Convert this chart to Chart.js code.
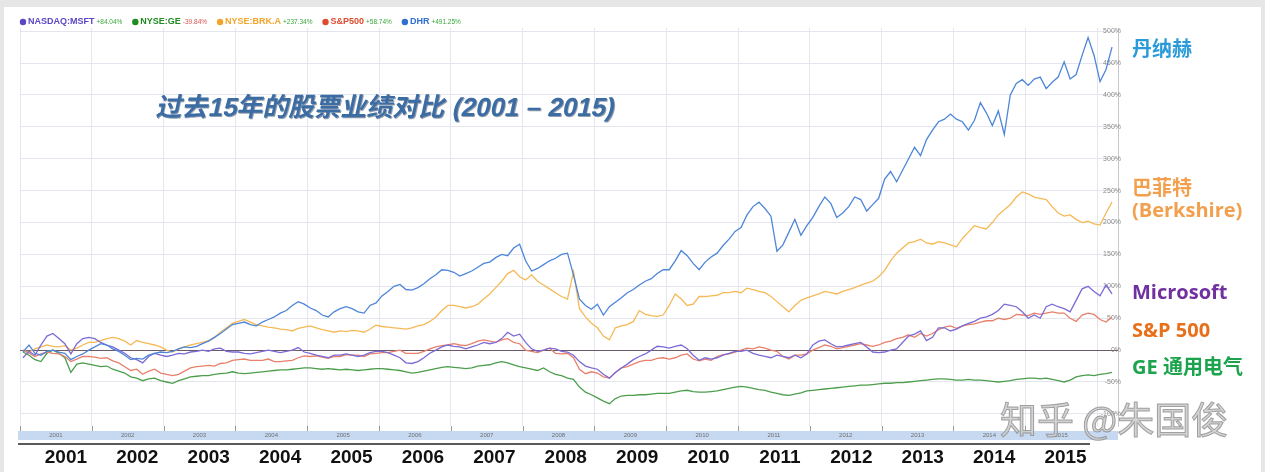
<!DOCTYPE html>
<html>
<head>
<meta charset="utf-8">
<script src="https://cdn.jsdelivr.net/npm/chart.js@4.4.1/dist/chart.umd.min.js"></script>
<style>
html, body { margin: 0; padding: 0; background: #fff; }
canvas { display: block; }
</style>
</head>
<body>
<canvas id="myChart" width="1265" height="472"></canvas>
<script>
// years shown on the time axis
var years = [2001, 2002, 2003, 2004, 2005, 2006, 2007, 2008, 2009, 2010, 2011, 2012, 2013, 2014, 2015];
// percentage grid values on the right axis
var yTicks = [-100, -50, 0, 50, 100, 150, 200, 250, 300, 350, 400, 450, 500];

// monthly % change since Jan 2001 (Jan 2001 .. Mar 2016)
var msft = [
  -12, -2, -8, 8, 22, 26, 18, 10, -6, 10, 18, 20,
  18, 12, 8, 5, 0, -5, -12, -15, -20, -10, -5, -8,
  -10, -8, -5, -6, -3, -2, 0, -2, 2, 3, -2, -3,
  -3, -5, -6, -4, -2, 0, -2, -4, -2, 0, 4, -3,
  -5, -8, -10, -12, -8, -8, -6, -8, -10, -8, -4, -2,
  -2, -4, -8, -12, -20, -21, -18, -12, -5, 0, 5, 8,
  6, 5, 2, 5, 8, 12, 10, 12, 18, 28, 22, 25,
  12, 2, -2, 0, 3, 2, -2, -3, -8, -18, -25, -28,
  -30, -38, -44, -35, -28, -22, -15, -10, -6, 0, 6, 5,
  3, 6, 8, 2, -8, -16, -12, -14, -12, -8, -5, -2,
  -2, 0, -5, -8, -10, -12, -8, -10, -12, -8, -12, -6,
  8, 14, 16, 10, 5, 6, 8, 10, 12, 5, -3, -4,
  -3, 0, 2, 12, 22, 25, 30, 15, 20, 35, 35, 30,
  33, 38, 42, 45, 50, 52, 56, 62, 72, 70, 68, 60,
  50, 55, 50, 68, 72, 68, 65, 60, 78, 96, 100, 92,
  85, 102, 88
];
var ge = [
  -3, -8, -15, -18, -5, 0, -5, -12, -35, -22, -20, -22,
  -24, -26, -25, -30, -33, -36, -42, -44, -48, -45, -44, -48,
  -50, -52, -48, -45, -42, -41, -40, -40, -38, -37, -36, -34,
  -36, -37, -36, -35, -34, -33, -32, -31, -31, -30, -29, -28,
  -28, -29, -30, -29, -30, -31, -30, -31, -32, -31, -30, -29,
  -29, -30, -31, -32, -34, -36, -35, -33, -31, -29, -27, -26,
  -27, -28, -29, -28, -25, -24, -23, -20, -18, -20, -23, -26,
  -28, -30, -32, -28, -34, -38, -40, -44, -46, -58, -66, -70,
  -75, -80, -84, -76, -72, -71, -71, -70, -70, -69, -68, -68,
  -68, -66, -64, -63, -65, -66, -66, -65, -64, -62, -60, -58,
  -57, -58, -60, -62, -63, -66, -68, -70, -71, -69, -67, -64,
  -63, -62, -61, -60, -59, -58, -57, -56, -55, -55, -54, -53,
  -52, -52, -51, -51, -50, -49, -48, -47, -46, -45, -45, -46,
  -47, -47, -46, -47, -47, -48, -49, -50, -49, -48, -46, -45,
  -44, -44, -45, -44, -46, -48, -50, -47, -42, -40, -39, -40,
  -38, -37, -35
];
var brk = [
  0, -3, 2, 5, 8, 6, 5, 7, 0, 3, 8, 12,
  12, 15, 18, 20, 18, 14, 8, 15, 12, 10, 8, 5,
  0, -3, 2, 5, 8, 10, 12, 15, 20, 28, 35, 42,
  45, 48, 44, 40, 38, 36, 35, 33, 32, 30, 34, 36,
  38, 35, 32, 30, 28, 30, 29, 31, 30, 28, 33, 39,
  37, 36, 35, 34, 33, 35, 38, 40, 45, 52, 62, 70,
  70, 68, 66, 68, 72, 80, 88, 98, 108, 120, 125, 115,
  110, 118, 108, 102, 96, 90, 84, 80, 123, 65, 52, 42,
  35, 22, 16, 35, 38, 40, 45, 62, 56, 54, 53, 55,
  70, 88, 80, 70, 72, 84, 84, 85, 86, 90, 90, 92,
  90, 97, 95, 92, 90, 84, 76, 68, 60, 70, 78, 82,
  85, 88, 92, 90, 88, 92, 95, 98, 102, 105, 108, 115,
  125, 140, 152, 160, 168, 170, 174, 168, 166, 170, 168, 165,
  162, 175, 185, 195, 192, 190, 200, 212, 220, 228, 240, 248,
  245, 240, 238, 236, 225, 215, 210, 212, 205, 200, 202, 198,
  196, 215, 232
];
var sp500 = [
  0, -5, -10, -6, -3, -5, -6, -10, -18, -14, -10, -10,
  -11, -13, -12, -17, -20, -26, -32, -30, -38, -33, -30, -36,
  -38, -40, -38, -33, -28, -26, -25, -24, -25, -21, -20, -16,
  -15, -14, -16, -16, -16, -14, -18, -18, -17, -16, -12, -9,
  -10, -9, -11, -13, -10, -10, -7, -8, -8, -10, -6, -5,
  -4, -4, -2, 0, -5, -5, -5, -2, 2, 5, 7, 8,
  10, 8, 7, 10, 14, 16, 14, 12, 16, 18, 12, 10,
  0, -2, -4, 0, 3, -5, -6, -5, -12, -30, -37, -34,
  -36, -42, -44, -35, -28, -26, -22, -18, -16, -16, -13, -12,
  -14, -12, -8, -6, -14, -17, -14, -16, -10, -7, -6, -3,
  0, 3, 2, 5, 3, 0, -2, -10, -14, -8, -8, -6,
  0, 4, 8, 6, 2, 4, 6, 8, 10, 8, 6, 8,
  12, 14, 18, 20, 24, 20, 26, 22, 26, 32, 36, 38,
  34, 38, 40, 41, 44, 46, 46, 50, 48, 50, 56, 55,
  54, 58, 56, 58, 60, 58, 58, 50, 45, 55, 58, 56,
  48, 44, 52
];
var dhr = [
  -3, 8, -5, -8, -2, 0, -3, -5, -15, -10, -6, 0,
  5, 10, 8, 2, -2, -8, -15, -13, -14, -8, -5, -3,
  -4, -2, 2, 5, 4, 6, 10, 14, 20, 26, 33, 40,
  42, 44, 40, 38, 44, 48, 52, 58, 62, 70, 76, 72,
  66, 62, 55, 52, 60, 65, 68, 65, 60, 58, 70, 74,
  85, 92, 100, 103, 95, 94, 98, 104, 112, 118, 126, 125,
  122, 116, 120, 124, 130, 136, 138, 145, 150, 148, 160, 166,
  140, 124, 128, 134, 140, 144, 150, 152, 118, 80, 70, 64,
  72, 55, 68, 75, 82, 90, 95, 102, 108, 112, 120, 126,
  126, 140, 156, 148, 136, 126, 138, 146, 152, 164, 174, 186,
  192, 212, 225, 232, 222, 210, 155, 165, 185, 205, 180, 195,
  208, 225, 240, 230, 208, 215, 225, 240, 236, 218, 228, 238,
  268, 280, 264, 282, 300, 318, 305, 330, 345, 358, 362, 370,
  362, 358, 345, 360, 388, 372, 352, 375, 338, 400, 418, 424,
  415, 425, 428, 410, 420, 428, 452, 425, 432, 462, 490, 462,
  421, 440, 475
];

// legend text at the top
var legendNames = ['NASDAQ:MSFT', 'NYSE:GE', 'NYSE:BRK.A', 'S&P500', 'DHR'];
var legendPct = ['+84.04%', '-39.84%', '+237.34%', '+58.74%', '+491.25%'];
var colors = ['#7b6bd6', '#4c9e4c', '#f6b957', '#e9806c', '#4d86d8'];
var dotColors = ['#5b46c4', '#1f8a1f', '#f2a52a', '#de4a2c', '#2f6fd0'];

function pts(arr) {
  return arr.map(function (v, i) { return { x: i + 0.5, y: v }; });
}

var overlay = {
  id: 'overlay',
  beforeDraw: function (chart) {
    var c = chart.ctx;
    c.save();
    c.fillStyle = '#e6e6e6';
    c.fillRect(0, 0, chart.width, chart.height);
    c.fillStyle = '#ffffff';
    c.fillRect(4, 7, 1257, chart.height - 7);
    c.restore();
  },
  afterDraw: function (chart) {
    var c = chart.ctx;
    var xs = chart.scales.x;
    var area = chart.chartArea;
    c.save();

    // legend row
    var lx = 20, ly = 22;
    c.textBaseline = 'middle';
    for (var i = 0; i < legendNames.length; i++) {
      c.fillStyle = dotColors[i];
      c.beginPath();
      c.arc(lx + 3, ly, 3.2, 0, Math.PI * 2);
      c.fill();
      lx += 8;
      c.font = 'bold 9px "Liberation Sans", Arial, sans-serif';
      c.fillText(legendNames[i], lx, ly);
      lx += c.measureText(legendNames[i]).width + 2;
      c.font = '6.5px "Liberation Sans", Arial, sans-serif';
      c.fillStyle = legendPct[i].charAt(0) === '-' ? '#d9534f' : '#3aa83a';
      c.fillText(legendPct[i], lx, ly + 0.5);
      lx += c.measureText(legendPct[i]).width + 10;
    }

    // title, slanted
    c.save();
    c.translate(157, 109);
    c.transform(1, 0, -0.22, 1, 0, 0);
    c.font = 'bold 26px "Liberation Sans", "Noto Sans CJK SC", sans-serif';
    c.textBaseline = 'middle';
    c.fillStyle = 'rgba(20,40,70,0.45)';
    c.fillText('过去15年的股票业绩对比 (2001 – 2015)', 1.2, 1.2);
    c.fillStyle = '#3b6ca3';
    c.fillText('过去15年的股票业绩对比 (2001 – 2015)', 0, 0);
    c.restore();

    // labels at the right side
    var side = [
      ['丹纳赫', '#2a9bd8', 50],
      ['巴菲特', '#f2a04e', 189],
      ['(Berkshire)', '#f2a04e', 211],
      ['Microsoft', '#7030a0', 293],
      ['S&P 500', '#e8701a', 331],
      ['GE 通用电气', '#1ba34d', 368]
    ];
    c.font = 'bold 20px "Open Sans", "Noto Sans CJK SC", sans-serif';
    c.textBaseline = 'middle';
    side.forEach(function (s) {
      c.fillStyle = s[1];
      c.fillText(s[0], 1132, s[2]);
    });

    // year strip under the plot
    var top = area.bottom + 5;
    c.fillStyle = '#c6d9f1';
    c.fillRect(area.left - 2, top, area.right - area.left + 2, 9);
    c.strokeStyle = '#9a9a9a';
    c.lineWidth = 1;
    c.font = '6px "Liberation Sans", Arial, sans-serif';
    c.textAlign = 'center';
    years.forEach(function (y, k) {
      var bx = Math.round(xs.getPixelForValue(k * 12)) + 0.5;
      c.beginPath();
      c.moveTo(bx, area.bottom);
      c.lineTo(bx, top);
      c.stroke();
      c.fillStyle = '#707070';
      c.fillText(String(y), xs.getPixelForValue(k * 12 + 6), top + 4.5);
    });

    // dark rule and big year labels
    c.strokeStyle = '#5a5a5a';
    c.lineWidth = 2;
    c.beginPath();
    c.moveTo(area.left - 2, top + 13);
    c.lineTo(1090, top + 13);
    c.stroke();
    c.fillStyle = '#111';
    c.font = 'bold 19px "Liberation Sans", Arial, sans-serif';
    years.forEach(function (y, k) {
      c.fillText(String(y), xs.getPixelForValue(k * 12 + 6) + 10 - k * 0.4, top + 27);
    });

    // watermark
    c.textAlign = 'left';
    c.font = '37px "Noto Sans CJK SC", sans-serif';
    c.fillStyle = 'rgba(205,205,205,0.85)';
    c.strokeStyle = 'rgba(130,130,130,0.7)';
    c.lineWidth = 1;
    c.fillText('知乎 @朱国俊', 1000, 420);
    c.strokeText('知乎 @朱国俊', 1000, 420);
    c.restore();
  }
};

var ctx = document.getElementById('myChart').getContext('2d');
var myChart = new Chart(ctx, {
  type: 'line',
  data: {
    datasets: [
      { label: 'DHR', data: pts(dhr), borderColor: colors[4] },
      { label: 'NASDAQ:MSFT', data: pts(msft), borderColor: colors[0] },
      { label: 'S&P500', data: pts(sp500), borderColor: colors[3] },
      { label: 'NYSE:BRK.A', data: pts(brk), borderColor: colors[2] },
      { label: 'NYSE:GE', data: pts(ge), borderColor: colors[1] }
    ]
  },
  options: {
    responsive: false,
    animation: false,
    events: [],
    layout: { padding: { left: 20, right: 147, top: 28, bottom: 46 } },
    elements: {
      point: { radius: 0 },
      line: { borderWidth: 1.3, tension: 0 }
    },
    plugins: { legend: { display: false }, tooltip: { enabled: false } },
    scales: {
      x: {
        type: 'linear',
        min: 0,
        max: 183.5,
        afterBuildTicks: function (s) {
          s.ticks = years.map(function (y, k) { return { value: k * 12 }; }).concat([{ value: 180 }]);
        },
        afterFit: function (s) { s.height = 0; },
        ticks: { display: false },
        grid: { color: '#e3e6ee', drawTicks: false },
        border: { display: false }
      },
      y: {
        position: 'right',
        min: -119,
        max: 505,
        afterBuildTicks: function (s) {
          s.ticks = yTicks.map(function (v) { return { value: v }; });
        },
        afterFit: function (s) { s.width = 0; },
        ticks: {
          autoSkip: false,
          mirror: true,
          padding: 3,
          color: '#8a8a8a',
          font: { size: 7, family: '"Liberation Sans", Arial, sans-serif' },
          callback: function (v) { return v + '%'; }
        },
        grid: {
          drawTicks: false,
          color: function (c) { return c.tick && c.tick.value === 0 ? '#6c5866' : '#e3e6ee'; }
        },
        border: { display: true, color: '#c9c9c9' }
      }
    }
  },
  plugins: [overlay]
});
</script>
</body>
</html>
